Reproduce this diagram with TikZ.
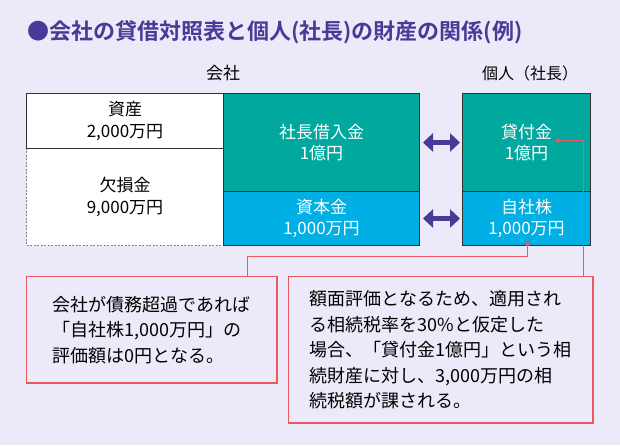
\documentclass[tikz,border=0pt]{standalone}
\usepackage{fontspec}
\setmainfont{Noto Sans CJK JP}[BoldFont={Noto Sans CJK JP Bold}]
\usetikzlibrary{arrows.meta}
\definecolor{bgpurple}{RGB}{236,234,249}
\definecolor{titlepurple}{RGB}{72,58,150}
\definecolor{boxteal}{RGB}{0,168,158}
\definecolor{boxcyan}{RGB}{0,176,228}
\definecolor{noteline}{RGB}{230,90,95}
\definecolor{edgegray}{RGB}{50,50,50}
\begin{document}
\begin{tikzpicture}[x=1pt,y=-1pt,
		cell/.style={draw=edgegray, line width=1pt, anchor=north west, inner sep=0pt, align=center, font=\fontsize{17}{21.5}\selectfont},
		notebox/.style={anchor=north west, inner sep=0pt, align=left, font=\fontsize{18}{25.5}\selectfont},
		callline/.style={draw=noteline, line width=1.4pt},
		bothway/.style={titlepurple, line width=5pt, {Triangle[width=18pt,length=10pt]}-{Triangle[width=18pt,length=10pt]}}]
		\fill[bgpurple] (0,0) rectangle (620,445);
		\useasboundingbox (0,0) rectangle (620,445);
		\node[anchor=west, inner sep=0pt, text=titlepurple, font=\bfseries\fontsize{22}{26}\selectfont] (title) at (27,32) {●会社の貸借対照表と個人(社長)の財産の関係(例)};
		\node[font=\fontsize{17}{20}\selectfont] (company) at (223,73) {会社};
		\node[font=\fontsize{16}{20}\selectfont] (person) at (530,73) {個人（社長）};
		\node[cell, fill=white, dash pattern=on 2pt off 1.5pt, draw=gray, minimum width=197pt, minimum height=97pt] (deficit) at (26,148) {欠損金\\9,000万円};
		\node[cell, fill=white, minimum width=197pt, minimum height=55pt] (assets) at (26,93) {資産\\2,000万円};
		\node[cell, fill=boxteal, text=white, minimum width=196pt, minimum height=98pt] (loan) at (223,93) {社長借入金\\1億円};
		\node[cell, fill=boxcyan, text=white, minimum width=196pt, minimum height=54pt] (capital) at (223,191) {資本金\\1,000万円};
		\node[cell, fill=boxteal, text=white, minimum width=128pt, minimum height=98pt] (lend) at (462,93) {貸付金\\1億円};
		\node[cell, fill=boxcyan, text=white, minimum width=128pt, minimum height=54pt] (shares) at (462,191) {自社株\\1,000万円};
		\draw[bothway] ([xshift=3pt]loan.east) -- ([xshift=-2pt]lend.west);
		\draw[bothway] ([xshift=3pt]capital.east) -- ([xshift=-2pt]shares.west);
		\node[notebox, minimum width=250pt, minimum height=106pt] (noteleft) at (26.5,276.5) {会社が債務超過であれば\\「自社株1,000万円」の\\評価額は0円となる。};
		\node[notebox, minimum width=304pt, minimum height=146pt] (noteright) at (288.5,276.5) {額面評価となるため、適用され\\る相続税率を30\%と仮定した\\場合、「貸付金1億円」という相\\続財産に対し、3,000万円の相\\続税額が課される。};
		\draw[callline] (noteleft.north west) rectangle (noteleft.south east);
		\draw[callline] (noteright.north west) rectangle (noteright.south east);
		\coordinate (sharesdot) at (527.5,244);
		\coordinate (lenddot) at (558,140.5);
		\coordinate (leftkink) at (247.5,256.5);
		\coordinate (rightkink) at (583.5,140.5);
		\draw[callline] (sharesdot) |- (leftkink) -- (leftkink |- noteleft.north);
		\draw[callline] (lenddot) -- (rightkink) -- (rightkink |- noteright.north);
		\fill[noteline] (sharesdot) circle (2.2pt) (lenddot) circle (2.2pt);
	\end{tikzpicture}
\end{document}
